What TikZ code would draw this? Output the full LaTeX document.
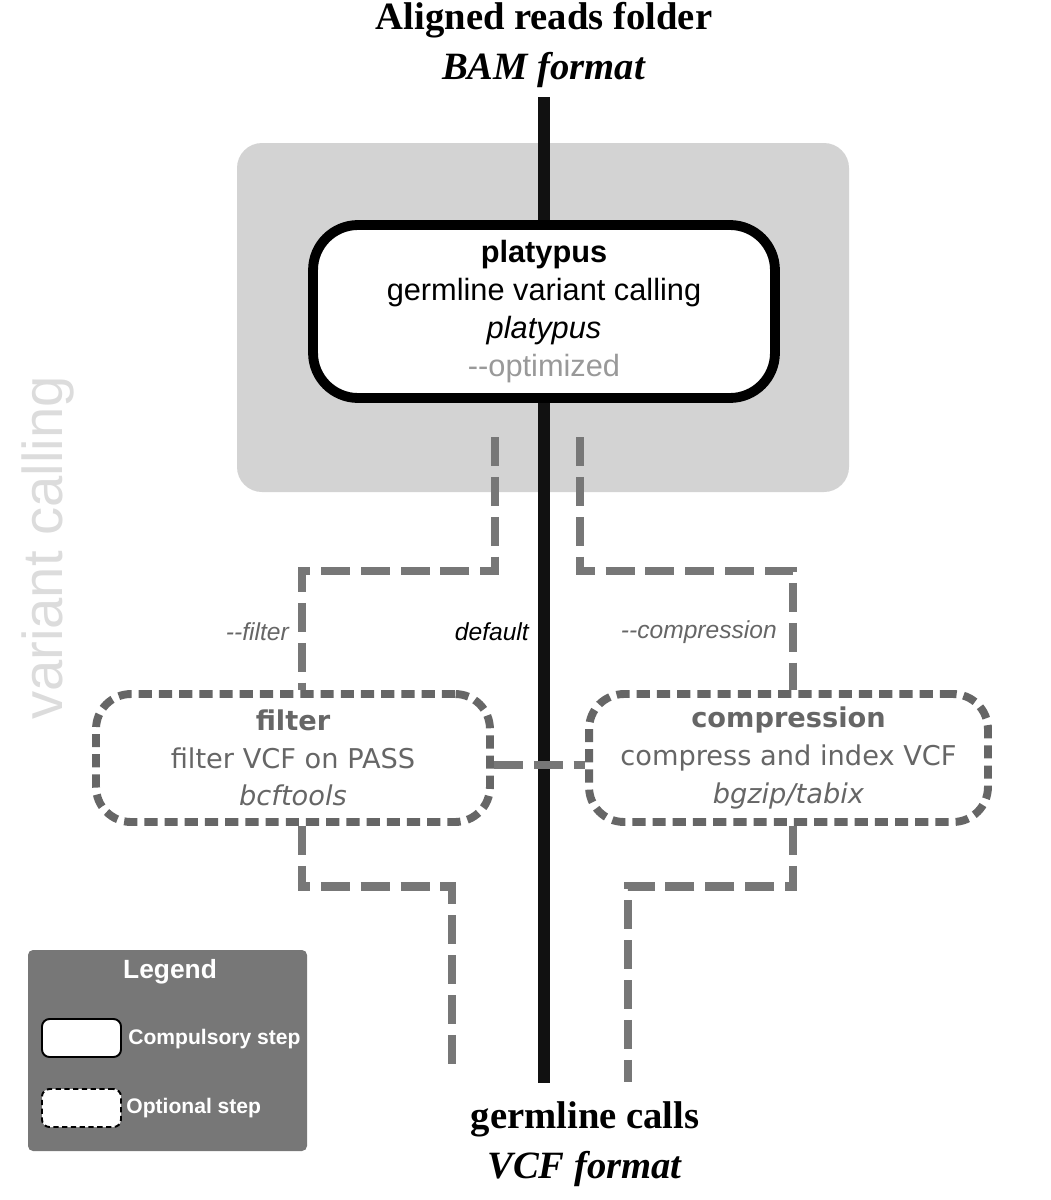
\documentclass[tikz,border=0pt]{standalone}
\usepackage{fontspec}
\setmainfont{Liberation Serif}
\setsansfont{Liberation Sans}
\newfontfamily\dejavu{DejaVu Sans}
\usetikzlibrary{calc}
\definecolor{bggray}{HTML}{D3D3D3}
\definecolor{pathgray}{HTML}{777777}
\definecolor{optgray}{HTML}{666666}
\definecolor{labgray}{HTML}{999999}
\definecolor{sidegray}{HTML}{DCDCDC}
\definecolor{leggray}{HTML}{777777}
\definecolor{linegray}{HTML}{111111}
\newcommand\dbldash{\mbox{-}\mbox{-}}
\begin{document}
\begin{tikzpicture}[x=0.02cm, y=-0.02cm,
  main node/.style={rounded corners=0.9cm, draw=black, line width=5.6pt, fill=white, minimum width=9.24cm, minimum height=3.46cm, align=center, font=\sffamily\fontsize{17.5}{21.7}\selectfont},
  opt node/.style={rounded corners=0.7cm, draw=optgray, line width=4.5pt, dash pattern=on 7.5pt off 4pt, fill=white, minimum height=2.56cm, align=center, text=optgray, font=\dejavu\fontsize{15.5}{21.5}\selectfont},
  io node/.style={align=center, font=\rmfamily\bfseries\fontsize{22}{28.5}\selectfont},
  main line/.style={draw=linegray, line width=6.8pt},
  opt line/.style={draw=pathgray, line width=5.1pt, dash pattern=on 16.5pt off 6.2pt},
  opt label/.style={anchor=east, font=\sffamily\itshape\fontsize{14}{16}\selectfont},
  leg box/.style={draw=black, fill=white, line width=1.1pt, rounded corners=0.15cm, minimum width=1.58cm, minimum height=0.76cm},
  leg text/.style={anchor=west, inner sep=0pt, text=white, font=\sffamily\bfseries\fontsize{12}{14}\selectfont}]
\useasboundingbox (0,0) rectangle (1051,1200);
% variant calling block
\fill[bggray, rounded corners=0.5cm] (237,143) rectangle (849,492);
\node[text=sidegray, rotate=90, font=\sffamily\fontsize{32}{36}\selectfont] (side) at (48,548) {variant calling};

\node[io node] (src) at (544,45) {Aligned reads folder\\\textit{BAM format}};
\node[main node] (plat) at (544,311.5) {\textbf{platypus}\\germline variant calling\\\textit{platypus}\\\textcolor{labgray}{\dbldash optimized}};
\node[opt node, minimum width=7.88cm] (filt) at (293,758) {\textbf{filter}\\filter VCF on PASS\\\textit{bcftools}};
\node[opt node, minimum width=7.98cm] (comp) at (788.5,758) {\textbf{compression}\\compress and index VCF\\\textit{bgzip/tabix}};
\node[io node] (dst) at (585,1144) {germline calls\\\textit{VCF format}};

% default path
\draw[main line, shorten <=2pt] (src) -- (plat);
\draw[main line, shorten >=7pt] (plat.south) -- (plat.south |- dst.north);

% optional paths
\coordinate (fl) at (495,437);
\coordinate (fr) at (580,437);
\coordinate (bl) at (452,1072);
\coordinate (br) at (628,1082);
\draw[opt line] (fl) -- ++(0,134) -| ($(filt.north)+(9,0)$);
\draw[opt line] (fr) -- ++(0,134) -| ($(comp.north)+(4.5,0)$);
\draw[opt line] ($(filt.south)+(9,0)$) -- ++(0,61) -| (bl);
\draw[opt line] ($(comp.south)+(4.5,0)$) -- ++(0,61) -| (br);
\draw[opt line] ($(filt.east)+(0,7)$) -- ($(comp.west)+(0,7)$);

\node[opt label, text=optgray] (lfilt) at (295,632) {\dbldash filter};
\node[opt label] (ldef) at (535,632) {default};
\node[opt label, text=optgray] (lcomp) at (783,632) {\dbldash compression};

% legend
\fill[leggray, rounded corners=0.1cm] (28,950) rectangle (307,1151);
\node[text=white, font=\sffamily\bfseries\fontsize{15}{18}\selectfont] (leg) at (170,972) {Legend};
\node[leg box] (legc) at (81.5,1038) {};
\node[leg text] (legct) at (128,1039) {Compulsory step};
\node[leg box, dash pattern=on 3pt off 2pt] (lego) at (81.5,1108) {};
\node[leg text] (legot) at (126,1108) {Optional step};
\end{tikzpicture}
\end{document}
